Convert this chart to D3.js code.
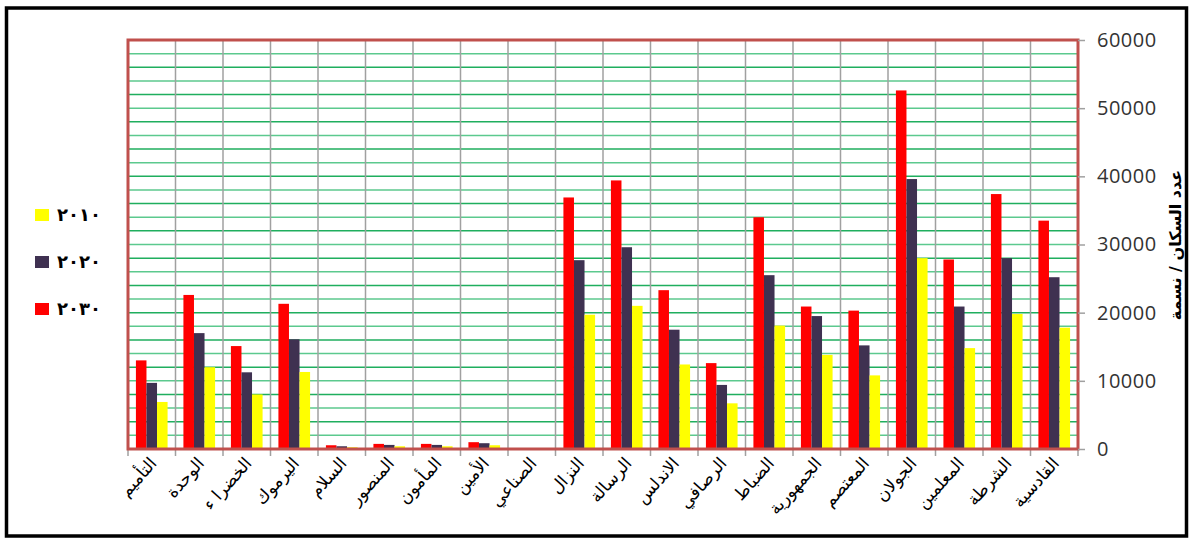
<!DOCTYPE html>
<html>
<head>
<meta charset="utf-8">
<script src="https://cdn.jsdelivr.net/npm/d3@7"></script>
<style>
body { margin: 0; background: #fff; }
svg { display: block; }
</style>
</head>
<body>
<svg id="chart" width="1195" height="539"></svg>
<script>
var categories = ['التأميم', 'الوحدة', 'الخضرا ء', 'اليرموك', 'السلام', 'المنصور', 'المأمون', 'الأمين', 'الصناعي',
    'النزال', 'الرسالة', 'الاندلس', 'الرصافي', 'الضباط', 'الجمهورية', 'المعتصم', 'الجولان', 'المعلمين', 'الشرطة', 'القادسية'];

var values2030 = [13000, 22600, 15100, 21300, 550, 750, 750, 1000, 0, 36900, 39400, 23300, 12600, 34000, 20900, 20300, 52600, 27800, 37400, 33500];
var values2020 = [9700, 17000, 11250, 16100, 400, 600, 600, 850, 0, 27700, 29600, 17500, 9400, 25500, 19500, 15200, 39600, 20900, 28000, 25200];
var values2010 = [6900, 12000, 8000, 11300, 250, 400, 400, 550, 0, 19700, 21000, 12400, 6700, 18100, 13800, 10800, 28000, 14800, 19800, 17800];

var seriesKeys = ['2030', '2020', '2010'];
var seriesLabels = ['٢٠٣٠', '٢٠٢٠', '٢٠١٠'];
var yTicks = [0, 10000, 20000, 30000, 40000, 50000, 60000];
var gridStep = 2000;
var yTitle = 'عدد السكان / نسمة';

var colors = { '2030': '#ff0000', '2020': '#3f3151', '2010': '#ffff00' };
var seriesValues = { '2030': values2030, '2020': values2020, '2010': values2010 };

var svg = d3.select('#chart');

var plot = { left: 128, right: 1078, top: 40, bottom: 449 };

// outer frame
svg.append('rect')
    .attr('x', 6.5).attr('y', 8)
    .attr('width', 1180).attr('height', 528)
    .attr('fill', '#fff')
    .attr('stroke', '#000')
    .attr('stroke-width', 3.5);

var x = d3.scaleBand().domain(categories).range([plot.left, plot.right]).padding(0);
var xInner = d3.scaleBand().domain(seriesKeys).range([0, x.bandwidth()]).paddingInner(0).paddingOuter(0.75);
var y = d3.scaleLinear().domain([0, 60000]).range([plot.bottom, plot.top]);

// horizontal grid, every 2000
svg.append('g')
    .selectAll('line')
    .data(d3.range(gridStep, 60000, gridStep))
    .join('line')
    .attr('x1', plot.left).attr('x2', plot.right)
    .attr('y1', function (d) { return y(d); })
    .attr('y2', function (d) { return y(d); })
    .attr('stroke', function (d, i) { return i % 2 ? '#1fae5e' : '#5cc98e'; })
    .attr('stroke-width', 1.5);

// vertical category separators (continue below as ticks)
svg.append('g')
    .selectAll('line')
    .data(categories.slice(1))
    .join('line')
    .attr('x1', function (d) { return x(d); })
    .attr('x2', function (d) { return x(d); })
    .attr('y1', plot.top).attr('y2', plot.bottom + 7)
    .attr('stroke', '#a0a0a0')
    .attr('stroke-width', 1.5);

svg.append('g').selectAll('line')
    .data([plot.left, plot.right])
    .join('line')
    .attr('x1', function (d) { return d; }).attr('x2', function (d) { return d; })
    .attr('y1', plot.bottom).attr('y2', plot.bottom + 7)
    .attr('stroke', '#a0a0a0').attr('stroke-width', 1.5);

// bars
var groups = svg.append('g')
    .selectAll('g')
    .data(categories)
    .join('g')
    .attr('transform', function (d) { return 'translate(' + x(d) + ',0)'; });

groups.selectAll('rect')
    .data(function (d, i) {
        return seriesKeys.map(function (k) { return { key: k, value: seriesValues[k][i] }; });
    })
    .join('rect')
    .attr('x', function (d) { return xInner(d.key); })
    .attr('y', function (d) { return y(d.value); })
    .attr('width', xInner.bandwidth())
    .attr('height', function (d) { return plot.bottom - y(d.value); })
    .attr('fill', function (d) { return colors[d.key]; });

// plot border
svg.append('rect')
    .attr('x', plot.left).attr('y', plot.top)
    .attr('width', plot.right - plot.left)
    .attr('height', plot.bottom - plot.top)
    .attr('fill', 'none')
    .attr('stroke', '#c0504d')
    .attr('stroke-width', 3);

// right axis
var axis = svg.append('g')
    .attr('transform', 'translate(' + plot.right + ',0)')
    .call(d3.axisRight(y).tickValues(yTicks).tickSize(7).tickPadding(12).tickFormat(d3.format('d')));

axis.select('.domain').remove();
axis.selectAll('line').attr('stroke', '#a0a0a0').attr('stroke-width', 1.5);
axis.selectAll('text')
    .attr('fill', '#333')
    .style('font-family', '"Open Sans", sans-serif')
    .style('font-size', '20px')
    .style('letter-spacing', '0.5px');

svg.append('text')
    .attr('transform', 'translate(1176,245) rotate(-90)')
    .attr('text-anchor', 'middle')
    .attr('dominant-baseline', 'middle')
    .style('font-family', '"DejaVu Sans", sans-serif')
    .style('font-size', '16px')
    .style('font-weight', 'bold')
    .attr('fill', '#000')
    .text(yTitle);

// category labels, slanted
svg.append('g')
    .selectAll('text')
    .data(categories)
    .join('text')
    .attr('transform', function (d) {
        return 'translate(' + (x(d) + x.bandwidth() / 2 + 6) + ',' + (plot.bottom + 15) + ') rotate(-48)';
    })
    .attr('text-anchor', 'end')
    .style('font-family', '"DejaVu Sans", sans-serif')
    .style('font-size', '17px')
    .attr('fill', '#000')
    .text(function (d) { return d; });

// legend (2010 on top)
var legendOrder = [2, 1, 0];
var legend = svg.append('g')
    .selectAll('g')
    .data(legendOrder)
    .join('g')
    .attr('transform', function (d, i) { return 'translate(35,' + (209 + i * 47) + ')'; });

legend.append('rect')
    .attr('width', 14).attr('height', 12)
    .attr('fill', function (d) { return colors[seriesKeys[d]]; });

legend.append('text')
    .attr('x', 22).attr('y', 12)
    .style('font-family', '"DejaVu Sans", sans-serif')
    .style('font-size', '18px')
    .style('font-weight', 'bold')
    .style('letter-spacing', '7px')
    .attr('direction', 'ltr')
    .attr('fill', '#000')
    .text(function (d) { return seriesLabels[d]; });
</script>
</body>
</html>
